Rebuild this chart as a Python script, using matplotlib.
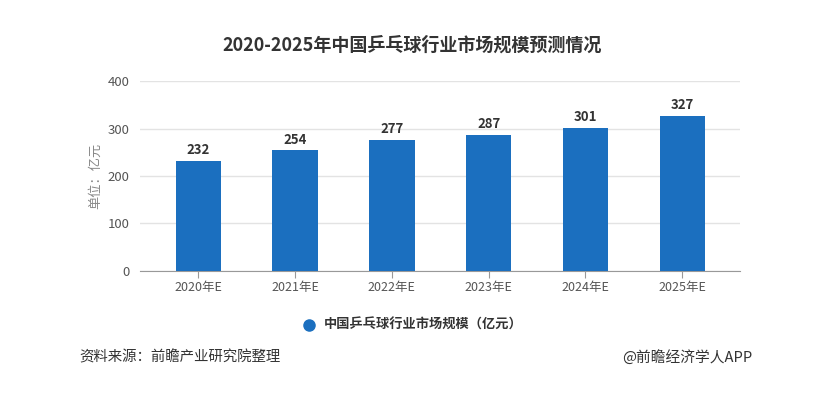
import matplotlib
matplotlib.use("Agg")
import matplotlib.pyplot as plt

plt.rcParams["font.family"] = ["Noto Sans CJK SC", "DejaVu Sans"]

years = ["2020年E", "2021年E", "2022年E", "2023年E", "2024年E", "2025年E"]
market = [232, 254, 277, 287, 301, 327]
yticks = [0, 100, 200, 300, 400]

BAR = "#1b6fbf"
GRID = "#e3e3e3"
TXT = "#555555"

fig = plt.figure(figsize=(8.3, 3.96), dpi=100)
ax = fig.add_axes([0.169, 0.316, 0.723, 0.479])

x = range(len(years))
ax.bar(x, market, width=0.47, color=BAR, zorder=3)
for i, v in zip(x, market):
    ax.text(i, v + 8, str(v), ha="center", va="bottom", fontsize=9.5,
            fontweight="bold", color="#333333")

ax.set_xlim(-0.6, len(years) - 0.4)
ax.set_ylim(0, 400)
ax.set_yticks(yticks)
ax.set_xticks(list(x))
ax.set_xticklabels(years)
ax.tick_params(axis="y", length=0, labelsize=9.5, labelcolor=TXT, pad=8)
ax.tick_params(axis="x", length=5, color="#999999", labelsize=9, labelcolor=TXT, pad=2)
ax.grid(axis="y", color=GRID, linewidth=1, zorder=0)
for s in ["top", "right", "left"]:
    ax.spines[s].set_visible(False)
ax.spines["bottom"].set_color("#999999")
ax.set_ylabel("单位：亿元", fontsize=9.5, color="#888888", labelpad=4)

fig.text(0.497, 0.885, "2020-2025年中国乒乓球行业市场规模预测情况", ha="center",
         va="center", fontsize=13, fontweight="bold", color="#333333")

# legend
fig.lines.append(plt.Line2D([0.372], [0.18], marker="o", markersize=8, color=BAR,
                            transform=fig.transFigure, linestyle="none"))
fig.text(0.39, 0.18, "中国乒乓球行业市场规模（亿元）", ha="left", va="center",
         fontsize=9.5, fontweight="bold", color="#333333")

fig.text(0.095, 0.098, "资料来源：前瞻产业研究院整理", ha="left", va="center",
         fontsize=10.4, color="#333333")
fig.text(0.907, 0.098, "@前瞻经济学人APP", ha="right", va="center",
         fontsize=10.6, color="#333333")

fig.savefig("out.png", dpi=100, facecolor="white")
